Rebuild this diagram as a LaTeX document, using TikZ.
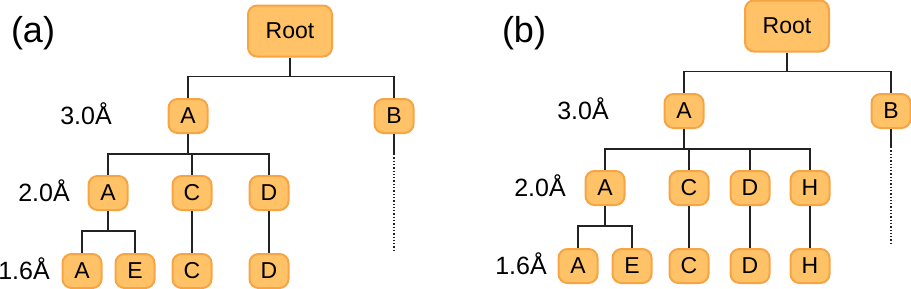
\documentclass[tikz,border=0pt]{standalone}
\usepackage{fontspec}
\setmainfont{Liberation Sans}
\usepackage{xcolor}
\usepackage{tikz}
\usetikzlibrary{positioning,calc}
\definecolor{boxfill}{HTML}{FFC266}
\definecolor{boxrim}{HTML}{F7A445}
\definecolor{wirec}{HTML}{222222}
\newcommand{\nodefont}{\fontsize{23}{25}\selectfont}
\tikzset{
  clu/.style={draw=boxrim, line width=2pt, fill=boxfill, rounded corners=9pt,
              minimum width=39pt, minimum height=34pt, inner sep=0pt,
              align=center, font=\nodefont},
  rootb/.style={clu, minimum width=84pt, minimum height=51pt},
  lvl/.style={font=\fontsize{25}{27}\selectfont, inner sep=0pt},
  tag/.style={font=\fontsize{36}{38}\selectfont, inner sep=0pt},
  wire/.style={draw=wirec, line width=1.3pt},
  more/.style={wire, dotted},
}
\begin{document}
\begin{tikzpicture}[x=1pt, y=-1pt]
\useasboundingbox (0,0) rectangle (911,289);

% ---- panel (a) ----
\node[tag] (taga) at (33,33) {(a)};
\node[rootb] (ra) at (290,31) {Root};
\node[clu] (a1a) at (188,116) {A};
\node[clu] (b1a) at (394,116) {B};
\node[clu] (a2a) at (108,193) {A};
\node[clu] (c2a) at (192,193) {C};
\node[clu] (d2a) at (269,193) {D};
\node[clu] (a3a) at (82,271) {A};
\node[clu] (e3a) at (135,271) {E};
\node[clu] (c3a) at (192,271) {C};
\node[clu] (d3a) at (269,271) {D};
\node[lvl] (l1a) at (86,114) {3.0Å};
\node[lvl] (l2a) at (44,191) {2.0Å};
\node[lvl] (l3a) at (24,269) {1.6Å};
\coordinate (enda) at (394,250);

\draw[wire] (ra.south) -- ++(0,19) coordinate (ja);
\draw[wire] (ja) -| (a1a.north);
\draw[wire] (ja) -| (b1a.north);
\draw[wire] (a1a.south) -- ++(0,20) coordinate (ka);
\draw[wire] (ka) -| (a2a.north);
\draw[wire] (ka) -| (c2a.north);
\draw[wire] (ka) -| (d2a.north);
\draw[wire] (a2a.south) -- ++(0,20) coordinate (ma);
\draw[wire] (ma) -| (a3a.north);
\draw[wire] (ma) -| (e3a.north);
\draw[wire] (c2a.south) -- (c3a.north);
\draw[wire] (d2a.south) -- (d3a.north);
\draw[wire] (b1a.south) -- ++(0,20) coordinate (na);
\draw[more] (na) -- (enda);

% ---- panel (b) ----
\node[tag] (tagb) at (524,33) {(b)};
\node[rootb] (rb) at (787,26) {Root};
\node[clu] (a1b) at (684,111) {A};
\node[clu] (b1b) at (891,111) {B};
\node[clu] (a2b) at (605,188) {A};
\node[clu] (c2b) at (689,188) {C};
\node[clu] (d2b) at (750,188) {D};
\node[clu] (h2b) at (810,188) {H};
\node[clu] (a3b) at (578,266) {A};
\node[clu] (e3b) at (632,266) {E};
\node[clu] (c3b) at (689,266) {C};
\node[clu] (d3b) at (750,266) {D};
\node[clu] (h3b) at (810,266) {H};
\node[lvl] (l1b) at (583,109) {3.0Å};
\node[lvl] (l2b) at (540,186) {2.0Å};
\node[lvl] (l3b) at (521,264) {1.6Å};
\coordinate (endb) at (891,245);

\draw[wire] (rb.south) -- ++(0,19) coordinate (jb);
\draw[wire] (jb) -| (a1b.north);
\draw[wire] (jb) -| (b1b.north);
\draw[wire] (a1b.south) -- ++(0,20) coordinate (kb);
\draw[wire] (kb) -| (a2b.north);
\draw[wire] (kb) -| (c2b.north);
\draw[wire] (kb) -| (d2b.north);
\draw[wire] (kb) -| (h2b.north);
\draw[wire] (a2b.south) -- ++(0,20) coordinate (mb);
\draw[wire] (mb) -| (a3b.north);
\draw[wire] (mb) -| (e3b.north);
\draw[wire] (c2b.south) -- (c3b.north);
\draw[wire] (d2b.south) -- (d3b.north);
\draw[wire] (h2b.south) -- (h3b.north);
\draw[wire] (b1b.south) -- ++(0,18) coordinate (nb);
\draw[more] (nb) -- (endb);

\end{tikzpicture}
\end{document}
